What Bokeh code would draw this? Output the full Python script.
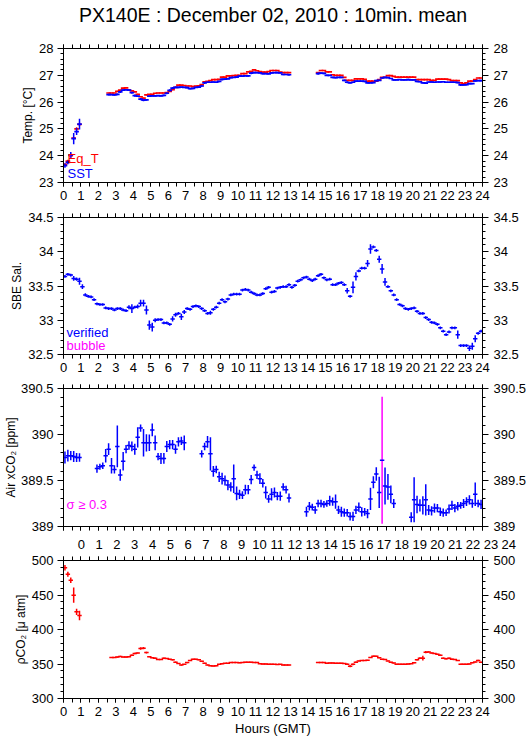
from bokeh.plotting import figure
from bokeh.layouts import column
from bokeh.models import Range1d, LinearAxis, FixedTicker, Label, CustomJSTickFormatter
from bokeh.core.properties import value
from bokeh.embed import file_html
from bokeh.resources import INLINE

_ = None
FONT = "Liberation Sans"
RED, BLUE, MAGENTA = "#ff0000", "#0000ff", "#ff00ff"

# ---------------- data : 10-minute means, 00:00-24:00 GMT (144 bins) ----------------
BIN_MINUTES = 10
hour_ticks = list(range(0, 25))

eq_t = [
    23.68, 23.80, 24.00, 24.66, 25.00, 25.17, _, _, _, _, _, _,
    _, _, _, 26.34, 26.34, 26.34, 26.40, 26.45, 26.52, 26.53, 26.45, 26.42,
    26.38, 26.29, 26.20, 26.15, 26.27, 26.29, 26.29, 26.33, 26.34, 26.34, 26.34, 26.35,
    26.40, 26.46, 26.55, 26.63, 26.63, 26.62, 26.60, 26.60, 26.58, 26.60, 26.61, 26.65,
    26.76, 26.77, 26.80, 26.84, 26.84, 26.85, 26.93, 26.93, 26.98, 26.98, 26.99, 27.00,
    27.00, 27.06, 27.06, 27.13, 27.15, 27.20, 27.17, 27.14, 27.12, 27.12, 27.14, 27.18,
    27.18, 27.18, 27.12, 27.10, 27.10, 27.10, _, _, _, _, _, _,
    _, _, _, 27.10, 27.18, 27.18, 27.13, 27.13, 27.02, 27.00, 27.00, 27.00,
    26.92, 26.81, 26.81, 26.81, 26.87, 26.87, 26.87, 26.85, 26.78, 26.78, 26.78, 26.78,
    26.84, 26.92, 26.92, 26.99, 26.99, 26.96, 26.93, 26.93, 26.93, 26.93, 26.93, 26.93,
    26.93, 26.84, 26.84, 26.84, 26.84, 26.84, 26.81, 26.81, 26.86, 26.86, 26.86, 26.86,
    26.84, 26.80, 26.80, 26.80, 26.72, 26.69, 26.72, 26.78, 26.78, 26.84, 26.90, 26.90,
]
eq_t_sd = [
    0.03, 0.05, 0.08, 0.04, 0.06, 0.06, _, _, _, _, _, _,
    _, _, _, 0.01, 0.01, 0.01, 0.02, 0.01, 0.02, 0.01, 0.01, 0.01,
    0.01, 0.02, 0.02, 0.01, 0.02, 0.01, 0.01, 0.01, 0.01, 0.01, 0.01, 0.01,
    0.01, 0.02, 0.02, 0.01, 0.01, 0.01, 0.01, 0.01, 0.01, 0.01, 0.01, 0.02,
    0.02, 0.01, 0.01, 0.01, 0.01, 0.01, 0.02, 0.01, 0.01, 0.01, 0.01, 0.01,
    0.01, 0.01, 0.01, 0.02, 0.01, 0.01, 0.01, 0.01, 0.01, 0.01, 0.01, 0.01,
    0.01, 0.01, 0.01, 0.01, 0.01, 0.01, _, _, _, _, _, _,
    _, _, _, 0.01, 0.02, 0.01, 0.01, 0.01, 0.02, 0.01, 0.01, 0.01,
    0.02, 0.01, 0.01, 0.01, 0.01, 0.01, 0.01, 0.01, 0.01, 0.01, 0.01, 0.01,
    0.01, 0.02, 0.01, 0.01, 0.01, 0.01, 0.01, 0.01, 0.01, 0.01, 0.01, 0.01,
    0.01, 0.01, 0.01, 0.01, 0.01, 0.01, 0.01, 0.01, 0.01, 0.01, 0.01, 0.01,
    0.01, 0.01, 0.01, 0.02, 0.01, 0.01, 0.02, 0.01, 0.01, 0.01, 0.01, 0.01,
]
sst = [
    23.63, 23.75, 24.03, 24.64, 24.90, 25.18, _, _, _, _, _, _,
    _, _, _, 26.28, 26.28, 26.27, 26.29, 26.38, 26.45, 26.46, 26.45, 26.35,
    26.24, 26.22, 26.11, 26.07, 26.08, 26.22, 26.23, 26.23, 26.24, 26.23, 26.25, 26.33,
    26.44, 26.52, 26.55, 26.55, 26.56, 26.55, 26.54, 26.50, 26.51, 26.55, 26.56, 26.60,
    26.72, 26.74, 26.74, 26.75, 26.74, 26.77, 26.85, 26.86, 26.87, 26.91, 26.92, 26.93,
    26.97, 26.97, 26.98, 26.98, 27.08, 27.10, 27.10, 27.09, 27.06, 27.06, 27.05, 27.09,
    27.10, 27.10, 27.09, 27.03, 27.03, 27.02, _, _, _, _, _, _,
    _, _, _, 27.06, 27.08, 27.07, 27.00, 27.00, 26.92, 26.91, 26.92, 26.92,
    26.81, 26.74, 26.72, 26.74, 26.78, 26.78, 26.78, 26.77, 26.72, 26.72, 26.73, 26.80,
    26.81, 26.90, 26.92, 26.91, 26.88, 26.83, 26.83, 26.84, 26.83, 26.83, 26.84, 26.83,
    26.83, 26.77, 26.76, 26.72, 26.71, 26.75, 26.75, 26.74, 26.75, 26.75, 26.76, 26.74,
    26.74, 26.74, 26.74, 26.73, 26.64, 26.64, 26.65, 26.69, 26.69, 26.79, 26.80, 26.80,
]
sst_sd = [
    0.08, 0.07, 0.11, 0.21, 0.13, 0.20, _, _, _, _, _, _,
    _, _, _, 0.03, 0.02, 0.03, 0.03, 0.04, 0.03, 0.03, 0.03, 0.04,
    0.04, 0.03, 0.04, 0.04, 0.03, 0.03, 0.02, 0.03, 0.02, 0.02, 0.03, 0.04,
    0.04, 0.04, 0.03, 0.03, 0.02, 0.02, 0.03, 0.03, 0.03, 0.02, 0.03, 0.03,
    0.04, 0.03, 0.02, 0.03, 0.03, 0.03, 0.04, 0.03, 0.02, 0.03, 0.02, 0.03,
    0.03, 0.02, 0.02, 0.03, 0.04, 0.03, 0.02, 0.02, 0.03, 0.02, 0.02, 0.03,
    0.02, 0.03, 0.02, 0.03, 0.02, 0.04, _, _, _, _, _, _,
    _, _, _, 0.04, 0.03, 0.03, 0.03, 0.02, 0.03, 0.03, 0.02, 0.03,
    0.03, 0.04, 0.03, 0.03, 0.03, 0.02, 0.02, 0.03, 0.03, 0.02, 0.03, 0.03,
    0.02, 0.03, 0.03, 0.02, 0.02, 0.03, 0.02, 0.02, 0.02, 0.02, 0.03, 0.02,
    0.02, 0.03, 0.02, 0.03, 0.03, 0.02, 0.03, 0.02, 0.02, 0.03, 0.02, 0.02,
    0.02, 0.03, 0.02, 0.03, 0.04, 0.03, 0.03, 0.03, 0.02, 0.03, 0.02, 0.03,
]
sal = [
    33.64, 33.67, 33.66, 33.61, 33.60, 33.57, 33.49, 33.37, 33.35, 33.34, 33.30, 33.24,
    33.23, 33.23, 33.18, 33.17, 33.17, 33.15, 33.17, 33.17, 33.15, 33.14, 33.19, 33.17,
    33.19, 33.20, 33.25, 33.25, 33.15, 32.93, 32.90, 33.00, 33.01, 33.01, 32.96, 32.96,
    32.94, 33.02, 33.08, 33.10, 33.05, 33.12, 33.17, 33.16, 33.20, 33.21, 33.20, 33.17,
    33.14, 33.10, 33.11, 33.16, 33.19, 33.25, 33.30, 33.27, 33.31, 33.37, 33.38, 33.38,
    33.38, 33.44, 33.45, 33.44, 33.41, 33.39, 33.37, 33.37, 33.39, 33.46, 33.48, 33.41,
    33.42, 33.47, 33.48, 33.49, 33.49, 33.52, 33.48, 33.51, 33.57, 33.59, 33.62, 33.63,
    33.60, 33.58, 33.60, 33.65, 33.67, 33.62, 33.59, 33.60, 33.52, 33.52, 33.54, 33.55,
    33.52, 33.43, 33.35, 33.48, 33.64, 33.72, 33.76, 33.76, 33.83, 34.04, 34.07, 34.02,
    33.89, 33.75, 33.56, 33.49, 33.43, 33.37, 33.30, 33.23, 33.21, 33.17, 33.16, 33.17,
    33.18, 33.13, 33.10, 33.10, 33.04, 33.01, 32.97, 32.96, 32.94, 32.89, 32.84, 32.79,
    32.83, 32.89, 32.89, 32.79, 32.63, 32.63, 32.63, 32.59, 32.62, 32.73, 32.81, 32.84,
]
sal_sd = [
    0.02, 0.02, 0.02, 0.035, 0.025, 0.05, 0.035, 0.025, 0.02, 0.02, 0.02, 0.02,
    0.02, 0.02, 0.02, 0.02, 0.02, 0.02, 0.02, 0.02, 0.02, 0.02, 0.03, 0.065,
    0.02, 0.03, 0.05, 0.05, 0.065, 0.068, 0.065, 0.03, 0.02, 0.02, 0.02, 0.02,
    0.02, 0.04, 0.03, 0.02, 0.045, 0.03, 0.02, 0.02, 0.02, 0.02, 0.02, 0.02,
    0.02, 0.02, 0.03, 0.02, 0.02, 0.02, 0.02, 0.02, 0.02, 0.02, 0.02, 0.02,
    0.02, 0.02, 0.02, 0.02, 0.02, 0.02, 0.02, 0.02, 0.02, 0.02, 0.02, 0.02,
    0.02, 0.02, 0.02, 0.02, 0.02, 0.02, 0.02, 0.02, 0.02, 0.02, 0.02, 0.02,
    0.02, 0.02, 0.02, 0.02, 0.02, 0.02, 0.02, 0.02, 0.02, 0.02, 0.02, 0.02,
    0.02, 0.04, 0.02, 0.085, 0.06, 0.02, 0.02, 0.02, 0.05, 0.068, 0.02, 0.02,
    0.05, 0.07, 0.055, 0.02, 0.02, 0.02, 0.02, 0.02, 0.02, 0.02, 0.02, 0.02,
    0.02, 0.02, 0.02, 0.02, 0.02, 0.02, 0.02, 0.02, 0.02, 0.02, 0.02, 0.02,
    0.02, 0.02, 0.02, 0.06, 0.02, 0.02, 0.02, 0.04, 0.05, 0.05, 0.02, 0.02,
]
xco2 = [
    389.75, 389.77, 389.77, 389.76, 389.75, 389.75, _, _, _, _, _, 389.63,
    389.65, 389.66, 389.77, 389.84, 389.66, 389.62, 389.87, 389.56, 389.71, 389.84, 389.88, 389.87,
    389.84, 389.97, 390.07, 389.91, 389.91, 389.91, 390.05, 389.91, 389.76, 389.74, 389.74, 389.87,
    389.89, 389.89, 389.84, 389.92, 389.93, 389.91, _, _, _, _, _, 389.79,
    389.87, 389.92, 389.79, 389.60, 389.62, 389.54, 389.52, 389.50, 389.45, 389.43, 389.52, 389.36,
    389.35, 389.34, 389.40, 389.40, 389.51, 389.64, 389.56, 389.52, 389.47, 389.37, 389.30, 389.35,
    389.37, 389.33, 389.33, 389.43, 389.40, 389.31, _, _, _, _, _, 389.16,
    389.22, 389.21, 389.18, 389.25, 389.25, 389.24, 389.25, 389.28, 389.27, 389.27, 389.18, 389.16,
    389.15, 389.15, 389.11, 389.11, 389.18, 389.21, 389.16, 389.16, 389.14, 389.30, 389.48, 389.57,
    389.37, 389.72, 389.44, 389.43, 389.35, 389.25, _, _, _, _, _, 389.10,
    389.29, 389.24, 389.23, 389.23, 389.29, 389.18, 389.17, 389.20, 389.20, 389.16, 389.15, 389.15,
    389.19, 389.23, 389.20, 389.22, 389.23, 389.25, 389.27, 389.29, 389.25, 389.35, 389.25, 389.24,
]
xco2_sd = [
    0.064, 0.064, 0.05, 0.06, 0.05, 0.045, _, _, _, _, _, 0.045,
    0.033, 0.036, 0.073, 0.064, 0.084, 0.045, 0.227, 0.062, 0.10, 0.045, 0.047, 0.053,
    0.06, 0.11, 0.04, 0.15, 0.094, 0.09, 0.07, 0.08, 0.04, 0.06, 0.058, 0.06,
    0.05, 0.05, 0.05, 0.05, 0.045, 0.08, _, _, _, _, _, 0.04,
    0.04, 0.064, 0.18, 0.058, 0.04, 0.055, 0.064, 0.055, 0.055, 0.05, 0.155, 0.076,
    0.05, 0.042, 0.053, 0.05, 0.05, 0.035, 0.045, 0.058, 0.045, 0.067, 0.042, 0.067,
    0.055, 0.044, 0.05, 0.04, 0.042, 0.05, _, _, _, _, _, 0.055,
    0.045, 0.036, 0.042, 0.04, 0.04, 0.036, 0.036, 0.055, 0.045, 0.078, 0.045, 0.055,
    0.045, 0.04, 0.045, 0.05, 0.045, 0.05, 0.05, 0.042, 0.05, 0.12, 0.065, 0.073,
    0.17, 0.69, 0.20, 0.14, 0.096, 0.05, _, _, _, _, _, 0.055,
    0.245, 0.095, 0.067, 0.10, 0.17, 0.055, 0.05, 0.05, 0.045, 0.047, 0.045, 0.036,
    0.05, 0.05, 0.045, 0.045, 0.036, 0.05, 0.047, 0.05, 0.045, 0.127, 0.04, 0.05,
]
pco2 = [
    489.4, 480.2, 471.5, 449.8, 425.6, 420.3, _, _, _, _, _, _,
    _, _, _, _, 359.5, 359.5, 360.0, 361.0, 360.0, 360.0, 360.5, 362.8,
    365.2, 366.0, 372.5, 373.0, 366.5, 360.5, 359.0, 358.5, 356.5, 356.5, 358.5, 358.0,
    357.0, 356.0, 352.7, 350.8, 348.4, 349.5, 352.0, 355.0, 357.0, 357.0, 356.0, 354.0,
    351.0, 348.5, 347.5, 347.0, 347.5, 349.5, 350.5, 351.0, 351.0, 352.0, 352.0, 352.0,
    351.8, 352.2, 352.5, 352.5, 352.5, 352.3, 352.2, 350.5, 350.0, 350.0, 349.8, 349.8,
    349.5, 349.3, 349.5, 348.5, 348.4, 348.4, _, _, _, _, _, _,
    _, _, _, 352.2, 352.2, 352.0, 351.2, 351.5, 351.5, 351.2, 351.2, 351.2,
    350.8, 349.8, 346.9, 349.5, 352.7, 354.5, 355.1, 355.1, 355.5, 359.4, 361.4, 361.4,
    358.9, 357.0, 356.5, 354.5, 352.5, 351.5, 349.8, 349.8, 349.8, 349.8, 350.0, 350.5,
    351.8, 356.0, 358.5, 358.5, 367.2, 367.5, 366.0, 365.2, 364.0, 362.8, 358.5, 357.5,
    358.5, 357.0, 356.5, 355.0, 349.8, 349.8, 349.8, 350.0, 351.8, 353.0, 355.0, 352.5,
]
pco2_sd = [
    4.0, 3.6, 4.0, 11.0, 4.5, 7.0, _, _, _, _, _, _,
    _, _, _, _, 0.8, 0.6, 0.8, 0.8, 0.6, 0.8, 0.8, 1.0,
    1.0, 0.8, 1.8, 1.5, 1.2, 0.8, 0.6, 0.8, 0.8, 0.6, 0.8, 0.8,
    0.6, 0.8, 1.0, 0.8, 0.8, 0.6, 0.8, 0.8, 0.6, 0.6, 0.6, 0.8,
    0.8, 0.8, 0.6, 0.8, 0.6, 0.6, 0.8, 0.6, 0.6, 0.6, 0.6, 0.6,
    0.6, 0.6, 0.6, 0.6, 0.6, 0.6, 0.6, 0.6, 0.6, 0.6, 0.6, 0.6,
    0.6, 0.6, 0.6, 0.6, 0.6, 0.6, _, _, _, _, _, _,
    _, _, _, 0.6, 0.8, 0.6, 0.6, 0.6, 0.6, 0.6, 0.6, 0.6,
    0.6, 0.8, 1.5, 1.2, 0.8, 0.6, 0.6, 0.6, 0.8, 0.8, 0.8, 0.6,
    0.6, 0.6, 0.6, 0.6, 0.6, 0.6, 0.6, 0.6, 0.6, 0.6, 0.6, 0.6,
    0.6, 0.8, 1.2, 3.5, 1.5, 1.0, 0.8, 0.8, 1.0, 0.8, 0.8, 0.8,
    0.8, 0.8, 0.8, 0.8, 0.6, 0.6, 0.6, 0.6, 0.8, 0.8, 1.0, 0.8,
]

temp_ticks = [23, 24, 25, 26, 27, 28]
sal_ticks = [32.5, 33, 33.5, 34, 34.5]
xco2_ticks = [389, 389.5, 390, 390.5]
pco2_ticks = [300, 350, 400, 450, 500]
XCO2_SIGMA_FLAG = 0.3
TITLE = "PX140E : December 02, 2010 : 10min. mean"

for arr in (eq_t, eq_t_sd, sst, sst_sd, sal, sal_sd, xco2, xco2_sd, pco2, pco2_sd):
    assert len(arr) == 144, len(arr)

STEP = BIN_MINUTES / 60.0
bin_start = [k * STEP for k in range(len(sal))]

# ---------------- layout constants (page has no margin) ----------------
W = 529
BL, BR = 58, 44
FW = W - BL - BR                 # frame width of every panel (427 px)
PX_PER_HOUR = FW / 24.0


def style_xaxis(a, labels):
    a.major_tick_in = 0
    a.major_tick_out = 4
    a.minor_tick_in = 0
    a.minor_tick_out = 4
    a.axis_line_color = "black"
    a.major_tick_line_color = "black"
    a.minor_tick_line_color = "black"
    a.major_label_text_font = FONT
    a.major_label_text_font_size = "13px" if labels else "0px"
    a.major_label_text_color = "black" if labels else None
    a.major_label_standoff = 4 if labels else 0


def make_fig(height, top, bottom, yr, yticks, yminor_step, ylabel, ylabel_standoff=1,
             bottom_labels=True, top_labels=False):
    p = figure(width=W, height=height, x_range=Range1d(0, 24), y_range=Range1d(*yr),
               output_backend="svg", toolbar_location=None, title=None,
               min_border_left=BL, min_border_right=BR, min_border_top=top, min_border_bottom=bottom,
               background_fill_color="white", border_fill_color="white",
               outline_line_color="black", outline_line_width=1)
    p.grid.visible = False
    xminor = [i * 0.5 for i in range(49)]
    n = int(round((yr[1] - yr[0]) / yminor_step))
    yminor = [yr[0] + i * yminor_step for i in range(n + 1)]
    xa = p.below[0]
    xa.ticker = FixedTicker(ticks=hour_ticks, minor_ticks=xminor)
    xt = LinearAxis(ticker=FixedTicker(ticks=hour_ticks, minor_ticks=xminor))
    p.add_layout(xt, "above")
    style_xaxis(xa, bottom_labels)
    style_xaxis(xt, top_labels)
    ya = p.left[0]
    ya.ticker = FixedTicker(ticks=yticks, minor_ticks=yminor)
    yr_ax = LinearAxis(ticker=FixedTicker(ticks=yticks, minor_ticks=yminor))
    p.add_layout(yr_ax, "right")
    for a, sto in ((ya, 4), (yr_ax, 5)):
        a.formatter = CustomJSTickFormatter(code="return String(Math.round(tick*100)/100);")
        a.major_tick_in = 0
        a.major_tick_out = 6
        a.minor_tick_in = 0
        a.minor_tick_out = 3
        a.axis_line_color = "black"
        a.major_tick_line_color = "black"
        a.minor_tick_line_color = "black"
        a.major_label_text_font = FONT
        a.major_label_text_font_size = "13px"
        a.major_label_text_color = "black"
        a.major_label_standoff = sto
    ya.axis_label = ylabel
    ya.axis_label_text_font = FONT
    ya.axis_label_text_font_size = "12px"
    ya.axis_label_text_font_style = "normal"
    ya.axis_label_text_color = "black"
    ya.axis_label_standoff = ylabel_standoff
    return p


def hour_strip(height):
    """Thin figure carrying the hour labels between panel 3 and panel 4.
    Its frame is pinned to one hour wider than the panels on each side, so every
    hour falls on the same pixel column as in the panels and no label is clipped."""
    pad = 1
    left = BL - int(round(pad * PX_PER_HOUR))
    fw = int(round((24 + 2 * pad) * PX_PER_HOUR))
    right = W - left - fw
    p = figure(frame_width=fw, frame_height=height,
               x_range=Range1d(-pad, 24 + pad), y_range=Range1d(0, 1),
               output_backend="svg", toolbar_location=None, title=None,
               x_axis_location=None, y_axis_location=None,
               min_border_left=left, min_border_right=right, min_border_top=0, min_border_bottom=0,
               background_fill_color="white", border_fill_color="white",
               outline_line_color=None)
    p.grid.visible = False
    p.text(x=hour_ticks, y=[0.5] * len(hour_ticks), text=[str(h) for h in hour_ticks],
           text_font=value(FONT), text_font_size=value("13px"), text_color="black",
           text_align="center", text_baseline="middle")
    return p


def note(p, text, x, y, color, size="13px"):
    p.add_layout(Label(x=x, y=y, x_units="screen", y_units="screen", text=text,
                       text_font=FONT, text_font_size=size, text_color=color,
                       text_align="left", text_baseline="middle"))


def crosses(p, vals, sds, hcolor, vcolor, hlw=1.5, vlw=1.5, flag=None, flag_color=None):
    hx0, hx1, hy, vx, vy0, vy1, fx, fy0, fy1 = [], [], [], [], [], [], [], [], []
    for k, (v, s) in enumerate(zip(vals, sds)):
        if v is None:
            continue
        hx0.append(bin_start[k]); hx1.append(bin_start[k] + STEP); hy.append(v)
        if flag is not None and s >= flag:
            fx.append(bin_start[k] + STEP / 2); fy0.append(v - s); fy1.append(v + s)
        else:
            vx.append(bin_start[k] + STEP / 2); vy0.append(v - s); vy1.append(v + s)
    p.segment(x0=vx, y0=vy0, x1=vx, y1=vy1, line_color=vcolor, line_width=vlw)
    if fx:
        p.segment(x0=fx, y0=fy0, x1=fx, y1=fy1, line_color=flag_color, line_width=vlw)
    p.segment(x0=hx0, y0=hy, x1=hx1, y1=hy, line_color=hcolor, line_width=hlw, line_cap="square")


# ---------------- panel 1 : temperature (title drawn as the top axis label) ----------------
p1 = make_fig(206, 45, 24, (23, 28), temp_ticks, 0.2, "Temp. [°C]", 1)
top1 = p1.above[0]
top1.axis_label = TITLE
top1.axis_label_text_font = FONT
top1.axis_label_text_font_size = "19.5px"
top1.axis_label_text_font_style = "normal"
top1.axis_label_text_color = "black"
top1.axis_label_standoff = 19
crosses(p1, eq_t, eq_t_sd, RED, RED, hlw=1.7, vlw=1.5)
crosses(p1, sst, sst_sd, BLUE, BLUE, hlw=1.7, vlw=1.5)
note(p1, "Eq_T", 4, 24, RED)
note(p1, "SST", 4, 9, BLUE)

# ---------------- panel 2 : salinity ----------------
p2 = make_fig(172, 11, 24, (32.5, 34.5), sal_ticks, 0.1, "SBE Sal.", 1)
crosses(p2, sal, sal_sd, BLUE, BLUE)
note(p2, "verified", 3, 22, BLUE)
note(p2, "bubble", 3, 9, MAGENTA)

# ---------------- panel 3 : air xCO2 ----------------
p3 = make_fig(158, 10, 10, (389, 390.5), xco2_ticks, 0.1, "Air xCO₂ [ppm]", 0,
              bottom_labels=False)
crosses(p3, xco2, xco2_sd, BLUE, BLUE, flag=XCO2_SIGMA_FLAG, flag_color=MAGENTA)
note(p3, "σ ≥ 0.3", 3, 22, MAGENTA)

# hour labels between panel 3 and panel 4
strip = hour_strip(16)

# ---------------- panel 4 : pCO2 ----------------
p4 = make_fig(187, 8, 41, (300, 500), pco2_ticks, 10, "ρCO₂ [μ atm]", 1)
crosses(p4, pco2, pco2_sd, RED, RED)
xa4 = p4.below[0]
xa4.axis_label = "Hours (GMT)"
xa4.axis_label_text_font = FONT
xa4.axis_label_text_font_size = "13px"
xa4.axis_label_text_font_style = "normal"
xa4.axis_label_text_color = "black"
xa4.axis_label_standoff = 2

layout = column(p1, p2, p3, strip, p4, spacing=0)
open("out.html", "w").write(file_html(layout, INLINE))
